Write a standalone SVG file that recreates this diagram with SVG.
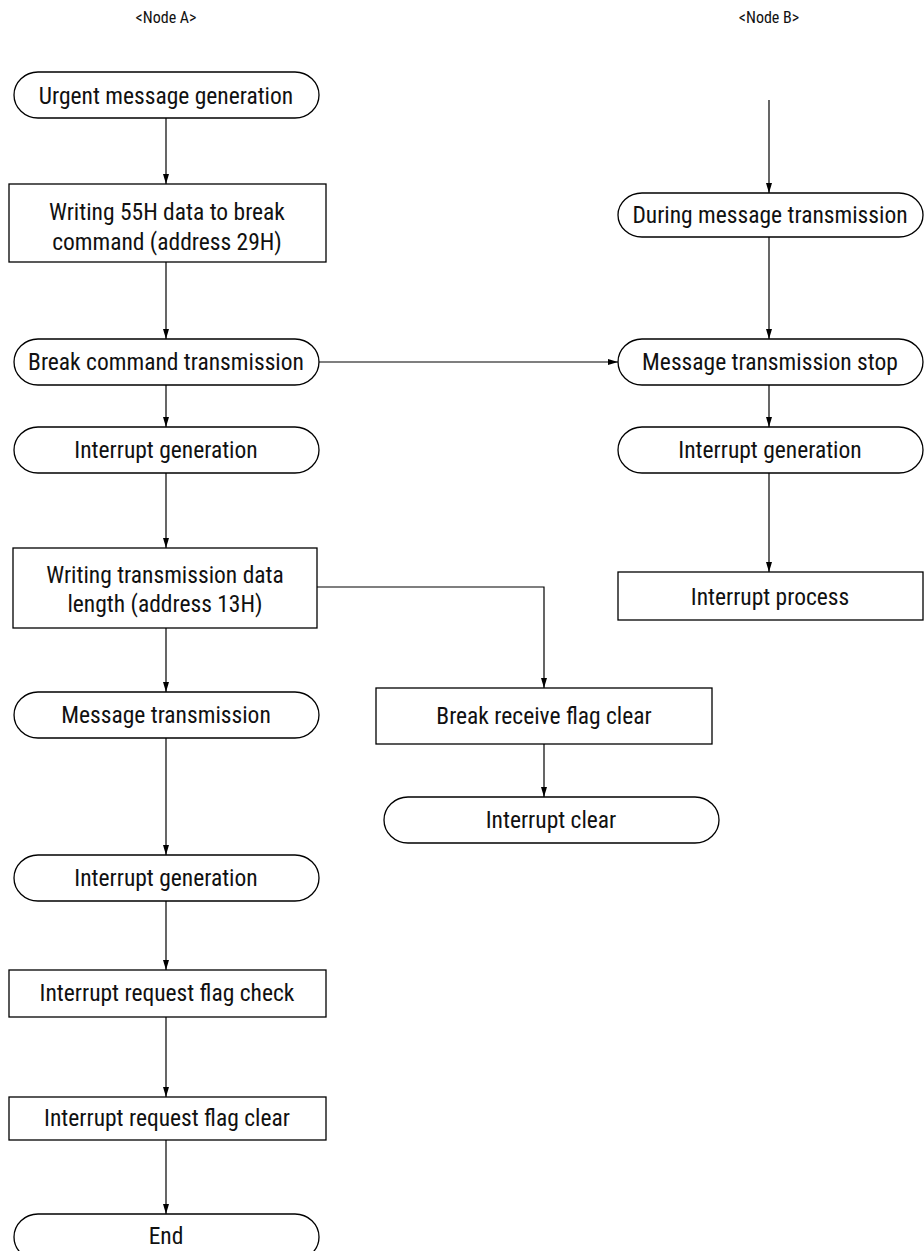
<svg xmlns="http://www.w3.org/2000/svg" width="924" height="1251" viewBox="0 0 924 1251">
<defs>
<marker id="ah" viewBox="0 0 10 6" refX="10" refY="3" markerWidth="10" markerHeight="6" markerUnits="userSpaceOnUse" orient="auto">
<path d="M0,0 L10,3 L0,6 Z" fill="#000"/>
</marker>
<style>
.s{fill:#fff;stroke:#000;stroke-width:1.3}
.t{font-family:"Roboto Condensed","Liberation Sans Narrow","Liberation Sans",sans-serif;font-size:23.5px;fill:#111;text-anchor:middle}
.h{font-family:"Roboto Condensed","Liberation Sans Narrow","Liberation Sans",sans-serif;font-size:16px;fill:#111;text-anchor:middle}
.c{fill:none;stroke:#000;stroke-width:1.2;marker-end:url(#ah)}
</style>
</defs>
<rect width="924" height="1251" fill="#fff"/>
<text class="h" x="166" y="23">&lt;Node A&gt;</text>
<text class="h" x="769" y="23">&lt;Node B&gt;</text>

<g id="connectors">
<path class="c" d="M166,118 V184"/>
<path class="c" d="M166,262 V339"/>
<path class="c" d="M166,385 V427"/>
<path class="c" d="M166,473 V548"/>
<path class="c" d="M166,628 V692"/>
<path class="c" d="M166,738 V855"/>
<path class="c" d="M166,901 V970"/>
<path class="c" d="M166,1017 V1097"/>
<path class="c" d="M166,1140 V1214"/>
<path class="c" d="M319,362 H618"/>
<path class="c" d="M317,587 H544 V688"/>
<path class="c" d="M544,744 V797"/>
<path class="c" d="M769,100 V193"/>
<path class="c" d="M769,237 V339"/>
<path class="c" d="M769,385 V427"/>
<path class="c" d="M769,473 V572"/>
</g>

<g id="a1"><path class="s" d="M38,72 H295 A24,23 0 0 1 295,118 H38 A24,23 0 0 1 38,72 Z"/><text class="t" x="166" y="104">Urgent message generation</text></g>
<g id="a2"><rect class="s" x="9" y="184" width="317" height="78"/><text class="t" x="167" y="220">Writing 55H data to break</text><text class="t" x="167" y="250">command (address 29H)</text></g>
<g id="a3"><path class="s" d="M38,339 H295 A24,23 0 0 1 295,385 H38 A24,23 0 0 1 38,339 Z"/><text class="t" x="166" y="370">Break command transmission</text></g>
<g id="a4"><path class="s" d="M38,427 H295 A24,23 0 0 1 295,473 H38 A24,23 0 0 1 38,427 Z"/><text class="t" x="166" y="458">Interrupt generation</text></g>
<g id="a5"><rect class="s" x="13" y="548" width="304" height="80"/><text class="t" x="165" y="583">Writing transmission data</text><text class="t" x="165" y="612">length (address 13H)</text></g>
<g id="a6"><path class="s" d="M38,692 H295 A24,23 0 0 1 295,738 H38 A24,23 0 0 1 38,692 Z"/><text class="t" x="166" y="723">Message transmission</text></g>
<g id="a7"><path class="s" d="M38,855 H295 A24,23 0 0 1 295,901 H38 A24,23 0 0 1 38,855 Z"/><text class="t" x="166" y="886">Interrupt generation</text></g>
<g id="a8"><rect class="s" x="9" y="970" width="317" height="47"/><text class="t" x="167" y="1001">Interrupt request flag check</text></g>
<g id="a9"><rect class="s" x="9" y="1097" width="317" height="43"/><text class="t" x="167" y="1126">Interrupt request flag clear</text></g>
<g id="a10"><path class="s" d="M38,1214 H295 A24,23 0 0 1 295,1260 H38 A24,23 0 0 1 38,1214 Z"/><text class="t" x="166" y="1244">End</text></g>

<g id="b1"><path class="s" d="M642,193 H899 A24,22 0 0 1 899,237 H642 A24,22 0 0 1 642,193 Z"/><text class="t" x="770" y="223">During message transmission</text></g>
<g id="b2"><path class="s" d="M642,339 H899 A24,23 0 0 1 899,385 H642 A24,23 0 0 1 642,339 Z"/><text class="t" x="770" y="370">Message transmission stop</text></g>
<g id="b3"><path class="s" d="M642,427 H899 A24,23 0 0 1 899,473 H642 A24,23 0 0 1 642,427 Z"/><text class="t" x="770" y="458">Interrupt generation</text></g>
<g id="b4"><rect class="s" x="618" y="572" width="305" height="48"/><text class="t" x="770" y="605">Interrupt process</text></g>

<g id="c1"><rect class="s" x="376" y="688" width="336" height="56"/><text class="t" x="544" y="724">Break receive flag clear</text></g>
<g id="c2"><path class="s" d="M408,797 H695 A24,23 0 0 1 695,843 H408 A24,23 0 0 1 408,797 Z"/><text class="t" x="551" y="828">Interrupt clear</text></g>
</svg>
